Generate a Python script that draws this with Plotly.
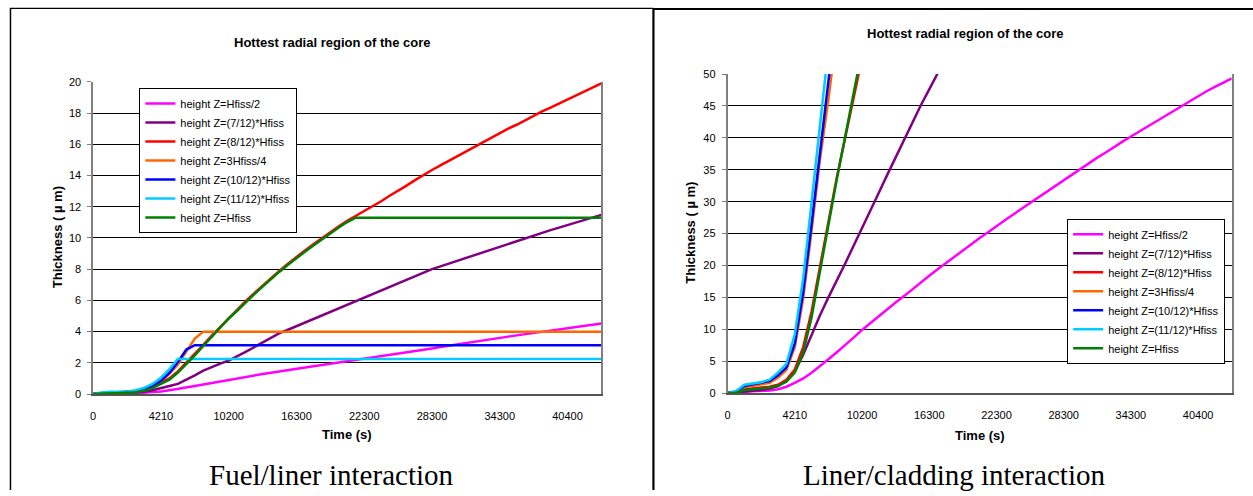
import plotly.graph_objects as go

# ---------------- data ----------------
# sample times (s) -- Excel category axis, evenly spaced categories
TIMES = [0, 526, 1053, 1579, 2105, 2631, 3158, 3684, 4210,
         4959, 5708, 6456, 7205, 7954, 8703, 9451, 10200,
         10963, 11725, 12488, 13250, 14013, 14775, 15538, 16300,
         17050, 17800, 18550, 19300, 20050, 20800, 21550, 22300,
         23050, 23800, 24550, 25300, 26050, 26800, 27550, 28300,
         29050, 29800, 30550, 31300, 32050, 32800, 33550, 34300,
         35063, 35825, 36588, 37350, 38113, 38875, 39638, 40400,
         41150, 41900, 42650, 43400]
X_LABELS = [0, 4210, 10200, 16300, 22300, 28300, 34300, 40400]

NAMES = ["height Z=Hfiss/2", "height Z=(7/12)*Hfiss", "height Z=(8/12)*Hfiss",
         "height Z=3Hfiss/4", "height Z=(10/12)*Hfiss", "height Z=(11/12)*Hfiss",
         "height Z=Hfiss"]
COLORS = ["#FF00FF", "#800080", "#FF0000", "#FF6600", "#0000FF", "#00CCFF", "#008000"]

# Fuel/liner interaction thickness (um)
FL_HALF = [0, 0, 0.01, 0.02, 0.03, 0.05, 0.08, 0.12, 0.17, 0.25,
           0.33, 0.42, 0.52, 0.62, 0.72, 0.82, 0.92, 1.01, 1.1, 1.19,
           1.28, 1.37, 1.46, 1.54, 1.62, 1.7, 1.78, 1.86, 1.94, 2.02,
           2.1, 2.17, 2.24, 2.32, 2.4, 2.48, 2.56, 2.65, 2.74, 2.83,
           2.92, 3.01, 3.1, 3.19, 3.28, 3.36, 3.44, 3.52, 3.6, 3.68,
           3.76, 3.84, 3.92, 4.0, 4.08, 4.16, 4.24, 4.31, 4.38, 4.45,
           4.52]
FL_7_12 = [0, 0.03, 0.05, 0.06, 0.07, 0.1, 0.15, 0.25, 0.4, 0.52,
           0.65, 0.9, 1.2, 1.5, 1.75, 1.95, 2.15, 2.4, 2.7, 3.0,
           3.3, 3.6, 3.9, 4.12, 4.35, 4.58, 4.8, 5.03, 5.26, 5.49,
           5.72, 5.95, 6.18, 6.4, 6.63, 6.86, 7.09, 7.31, 7.54, 7.77,
           8.0, 8.18, 8.36, 8.55, 8.73, 8.91, 9.1, 9.28, 9.46, 9.64,
           9.83, 10.0, 10.17, 10.33, 10.5, 10.66, 10.83, 11.0, 11.15, 11.3,
           11.48]
FL_8_12 = [0, 0.05, 0.08, 0.08, 0.1, 0.15, 0.25, 0.45, 0.75, 1.0,
           1.45, 2.0, 2.55, 3.15, 3.75, 4.3, 4.9, 5.4, 5.95, 6.45,
           6.95, 7.45, 7.9, 8.35, 8.8, 9.2, 9.6, 10.0, 10.4, 10.75,
           11.1, 11.4, 11.7, 12.05, 12.35, 12.7, 13.0, 13.35, 13.7, 14.05,
           14.35, 14.65, 14.95, 15.25, 15.55, 15.85, 16.15, 16.45, 16.7, 17.0,
           17.25, 17.55, 17.8, 18.1, 18.35, 18.6, 18.85, 19.15, 19.4, 19.65,
           19.9]
FL_3_4 = [0, 0.05, 0.1, 0.1, 0.12, 0.18, 0.3, 0.5, 0.85, 1.3,
          1.9, 2.75, 3.55, 4.0, 4.0, 4.0, 4.0, 4.0, 4.0, 4.0,
          4.0, 4.0, 4.0, 4.0, 4.0, 4.0, 4.0, 4.0, 4.0, 4.0,
          4.0, 4.0, 4.0, 4.0, 4.0, 4.0, 4.0, 4.0, 4.0, 4.0,
          4.0, 4.0, 4.0, 4.0, 4.0, 4.0, 4.0, 4.0, 4.0, 4.0,
          4.0, 4.0, 4.0, 4.0, 4.0, 4.0, 4.0, 4.0, 4.0, 4.0,
          4.0]
FL_10_12 = [0, 0.08, 0.12, 0.12, 0.14, 0.2, 0.3, 0.5, 0.85, 1.35,
            2.05, 2.85, 3.13, 3.13, 3.13, 3.13, 3.13, 3.13, 3.13, 3.13,
            3.13, 3.13, 3.13, 3.13, 3.13, 3.13, 3.13, 3.13, 3.13, 3.13,
            3.13, 3.13, 3.13, 3.13, 3.13, 3.13, 3.13, 3.13, 3.13, 3.13,
            3.13, 3.13, 3.13, 3.13, 3.13, 3.13, 3.13, 3.13, 3.13, 3.13,
            3.13, 3.13, 3.13, 3.13, 3.13, 3.13, 3.13, 3.13, 3.13, 3.13,
            3.13]
FL_11_12 = [0, 0.1, 0.15, 0.15, 0.17, 0.25, 0.4, 0.65, 1.05, 1.6,
            2.25, 2.25, 2.25, 2.25, 2.25, 2.25, 2.25, 2.25, 2.25, 2.25,
            2.25, 2.25, 2.25, 2.25, 2.25, 2.25, 2.25, 2.25, 2.25, 2.25,
            2.25, 2.25, 2.25, 2.25, 2.25, 2.25, 2.25, 2.25, 2.25, 2.25,
            2.25, 2.25, 2.25, 2.25, 2.25, 2.25, 2.25, 2.25, 2.25, 2.25,
            2.25, 2.25, 2.25, 2.25, 2.25, 2.25, 2.25, 2.25, 2.25, 2.25,
            2.25]
FL_FULL = [0, 0.04, 0.06, 0.07, 0.08, 0.12, 0.2, 0.38, 0.65, 0.92,
           1.38, 1.92, 2.48, 3.08, 3.68, 4.24, 4.84, 5.34, 5.88, 6.38,
           6.88, 7.38, 7.84, 8.28, 8.72, 9.12, 9.52, 9.92, 10.32, 10.67,
           11.02, 11.3, 11.3, 11.3, 11.3, 11.3, 11.3, 11.3, 11.3, 11.3,
           11.3, 11.3, 11.3, 11.3, 11.3, 11.3, 11.3, 11.3, 11.3, 11.3,
           11.3, 11.3, 11.3, 11.3, 11.3, 11.3, 11.3, 11.3, 11.3, 11.3,
           11.3]

# Liner/cladding interaction thickness (um); series stop once past the 50 um axis top
LC_HALF = [0, 0.05, 0.2, 0.28, 0.32, 0.4, 0.6, 1.0, 1.6, 2.3,
           3.2, 4.2, 5.3, 6.4, 7.5, 8.7, 9.9, 11.0, 12.1, 13.1,
           14.2, 15.2, 16.3, 17.3, 18.4, 19.4, 20.4, 21.4, 22.4, 23.3,
           24.3, 25.2, 26.2, 27.1, 28.0, 28.9, 29.8, 30.7, 31.6, 32.5,
           33.4, 34.3, 35.1, 36.0, 36.9, 37.7, 38.6, 39.4, 40.2, 41.0,
           41.8, 42.6, 43.4, 44.2, 45.0, 45.8, 46.5, 47.3, 48.0, 48.7,
           49.3]
LC_7_12 = [0, 0.1, 0.3, 0.4, 0.5, 0.7, 1.1, 2.0, 3.4, 6.0,
           9.2, 12.2, 15.0, 17.6, 20.3, 23.1, 25.8, 28.6, 31.4, 34.2,
           36.9, 39.7, 42.5, 45.1, 47.6, 50.1]
LC_8_12 = [0, 0.1, 0.6, 0.75, 0.85, 1.0, 1.3, 2.1, 3.7, 7.2,
           12.8, 19.8, 27.0, 33.8, 40.0, 46.3, 52.5]
LC_3_4 = [0, 0.2, 0.9, 1.1, 1.3, 1.6, 2.4, 3.6, 7.2, 14.8,
          25.4, 36.6, 46.0, 56.5]
LC_10_12 = [0, 0.25, 1.1, 1.35, 1.55, 1.9, 2.8, 4.0, 7.8, 15.8,
            26.5, 38.0, 48.5, 60.0]
LC_11_12 = [0, 0.3, 1.3, 1.5, 1.7, 2.1, 3.2, 4.6, 9.2, 18.0,
            30.0, 42.0, 54.0]
LC_FULL = [0, 0.05, 0.5, 0.6, 0.7, 0.85, 1.15, 1.8, 3.2, 6.4,
           11.9, 19.2, 26.5, 33.5, 40.2, 47.0, 53.7]

FUEL_LINER = [FL_HALF, FL_7_12, FL_8_12, FL_3_4, FL_10_12, FL_11_12, FL_FULL]
LINER_CLAD = [LC_HALF, LC_7_12, LC_8_12, LC_3_4, LC_10_12, LC_11_12, LC_FULL]

TITLE = "Hottest radial region of the core"
CAPTIONS = ["Fuel/liner interaction", "Liner/cladding interaction"]

# ---------------- figure ----------------
W, H = 1253, 496
SANS = "Liberation Sans, Arial, sans-serif"
SERIF = "Liberation Serif, Times New Roman, serif"


def fx(p):
    return p / W


def fy(p):
    return 1 - p / H


cats = [str(t) for t in TIMES]
fig = go.Figure()

for series, xa, ya, lg in [(FUEL_LINER, "x", "y", "legend"), (LINER_CLAD, "x2", "y2", "legend2")]:
    for name, color, vals in zip(NAMES, COLORS, series):
        fig.add_trace(go.Scatter(
            x=cats[:len(vals)], y=vals, mode="lines", name=name,
            line=dict(color=color, width=2.5),
            xaxis=xa, yaxis=ya, legend=lg, hoverinfo="skip"))


def xaxis_cfg(domain, anchor):
    return dict(domain=domain, anchor=anchor, type="category",
                categoryorder="array", categoryarray=cats, range=[0, len(cats) - 1],
                tickmode="array", tickvals=[str(v) for v in X_LABELS],
                ticktext=[str(v) for v in X_LABELS],
                showgrid=False, zeroline=False, showline=True,
                linecolor="#555555", linewidth=2, ticks="",
                ticklabelstandoff=11,
                tickfont=dict(family=SANS, size=11, color="black"))


def yaxis_cfg(domain, anchor, rng, dtick):
    return dict(domain=domain, anchor=anchor, range=rng, dtick=dtick,
                showgrid=True, gridcolor="black", gridwidth=1, zeroline=False,
                showline=True, mirror=True, linecolor="#808080", linewidth=1.5,
                ticks="outside", ticklen=4, tickcolor="#808080", tickwidth=1,
                ticklabelstandoff=4,
                tickfont=dict(family=SANS, size=11, color="black"))


legend_common = dict(xanchor="left", yanchor="top", bgcolor="white",
                     bordercolor="black", borderwidth=1, itemwidth=30,
                     font=dict(family=SANS, size=11, color="black"))

anns = []
for (tx, ty) in [(330, 37), (964, 28.5)]:
    anns.append(dict(text=TITLE, x=fx(tx), y=fy(ty), xref="paper", yref="paper",
                     showarrow=False, xanchor="center", yanchor="middle",
                     font=dict(family=SANS, size=13, color="black", weight="bold")))
for (tx, ty) in [(345.1, 439), (979, 440)]:
    anns.append(dict(text="Time (s)", x=fx(tx), y=fy(ty), xref="paper", yref="paper",
                     showarrow=False, xanchor="center", yanchor="middle",
                     font=dict(family=SANS, size=13, color="black", weight="bold")))
for (tx, ty) in [(54, 237), (689, 232)]:
    anns.append(dict(text="Thickness ( µ m)", x=fx(tx), y=fy(ty), xref="paper", yref="paper",
                     showarrow=False, xanchor="center", yanchor="middle", textangle=-90,
                     font=dict(family=SANS, size=13, color="black", weight="bold")))
for cap, (tx, ty) in zip(CAPTIONS, [(329, 481), (953, 481)]):
    anns.append(dict(text=cap, x=fx(tx), y=fy(ty), xref="paper", yref="paper",
                     showarrow=False, xanchor="center", yanchor="middle",
                     font=dict(family=SERIF, size=29, color="black")))

shapes = [
    dict(type="line", xref="paper", yref="paper", x0=fx(7.5), x1=fx(7.5), y0=fy(2), y1=fy(496),
         line=dict(color="black", width=1.5)),
    dict(type="line", xref="paper", yref="paper", x0=fx(7), x1=fx(652), y0=fy(2.5), y1=fy(2.5),
         line=dict(color="black", width=1.2)),
    dict(type="line", xref="paper", yref="paper", x0=fx(652), x1=fx(652), y0=fy(2), y1=fy(496),
         line=dict(color="black", width=2.2)),
    dict(type="line", xref="paper", yref="paper", x0=fx(652), x1=fx(1253), y0=fy(3), y1=fy(3),
         line=dict(color="black", width=2)),
]

fig.update_layout(
    width=W, height=H, autosize=False,
    margin=dict(l=0, r=0, t=0, b=0),
    paper_bgcolor="white", plot_bgcolor="white",
    xaxis=xaxis_cfg([fx(90.4), fx(599.8)], "y"),
    yaxis=yaxis_cfg([fy(397.7), fy(77.7)], "x", [0, 20], 2),
    xaxis2=xaxis_cfg([fx(726.3), fx(1231.7)], "y2"),
    yaxis2=yaxis_cfg([fy(396.7), fy(69.7)], "x2", [0, 50], 5),
    legend=dict(x=fx(136.7), y=fy(84), **legend_common),
    legend2=dict(x=fx(1066.7), y=fy(218), **legend_common),
    annotations=anns, shapes=shapes, showlegend=True,
)

fig.write_html("out.html")
